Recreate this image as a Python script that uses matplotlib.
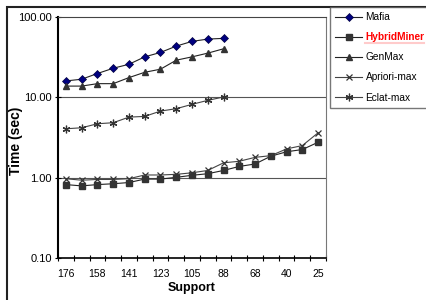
import matplotlib
matplotlib.use("Agg")
import matplotlib.pyplot as plt
from matplotlib.lines import Line2D
from matplotlib.patches import Rectangle
import numpy as np

plt.rcParams['font.family'] = ['Liberation Sans', 'DejaVu Sans']

# ---- data ----
support_labels = ["176", "158", "141", "123", "105", "88", "68", "40", "25"]
n_cat = 17

mafia = [16.0, 16.8, 19.8, 23.0, 25.8, 31.9, 36.2, 43.4, 49.7, 53.1, 54.2]
hybridminer = [0.82, 0.79, 0.82, 0.84, 0.87, 0.96, 0.96, 1.01, 1.07, 1.12,
               1.23, 1.38, 1.48, 1.85, 2.10, 2.24, 2.76]
genmax = [13.8, 13.8, 14.8, 14.8, 17.6, 20.5, 22.4, 29.0, 31.9, 35.5, 40.2]
apriori_max = [0.97, 0.93, 0.95, 0.95, 0.97, 1.08, 1.08, 1.10, 1.15, 1.23,
               1.53, 1.60, 1.79, 1.88, 2.28, 2.51, 3.62]
eclat_max = [4.06, 4.18, 4.69, 4.83, 5.67, 5.79, 6.74, 7.22, 8.18, 9.17, 10.1]

# ---- figure ----
fig = plt.figure(figsize=(4.26, 3.0), dpi=100)
ax = fig.add_axes([58/426, 1-258/300, (326-58)/426, (258-17)/300])

ax.plot(range(len(mafia)), mafia, color="#222222", lw=0.8, marker="D",
        ms=4, mfc="#000080", mec="#000040", mew=0.5, label="Mafia")
ax.plot(range(len(hybridminer)), hybridminer, color="#222222", lw=0.8, marker="s",
        ms=4.5, mfc="#333333", mec="#333333", label="HybridMiner")
ax.plot(range(len(genmax)), genmax, color="#222222", lw=0.8, marker="^",
        ms=5, mfc="#333333", mec="#333333", label="GenMax")
ax.plot(range(len(apriori_max)), apriori_max, color="#444444", lw=0.8, marker="x",
        ms=5, mec="#333333", mew=0.9, label="Apriori-max")
ax.plot(range(len(eclat_max)), eclat_max, color="#444444", lw=0.8, marker=(6, 2, 0),
        ms=5.5, mec="#333333", mew=0.9, label="Eclat-max")

ax.set_yscale("log")
ax.set_ylim(0.1, 100)
ax.set_xlim(-0.5, n_cat - 0.5)
ax.set_yticks([0.1, 1, 10, 100])
ax.set_yticklabels(["0.10", "1.00", "10.00", "100.00"])
ax.minorticks_off()
for v in [1, 10]:
    ax.axhline(v, color="#555555", lw=0.8, zorder=0)

ax.set_xticks(np.arange(-0.5, n_cat, 1))
ax.set_xticklabels([])
ax.set_xticks(np.arange(0, n_cat, 2), minor=True)
ax.set_xticklabels(support_labels, minor=True)
ax.tick_params(axis="x", which="major", direction="inout", length=5, width=0.8)
ax.tick_params(axis="x", which="minor", length=0, pad=8, labelsize=7.5)
ax.tick_params(axis="y", direction="inout", length=5, width=0.8, labelsize=8, pad=2)

ax.spines["left"].set_linewidth(1.5)
ax.spines["bottom"].set_linewidth(1.2)
ax.spines["right"].set_color("#777777")
ax.spines["top"].set_color("#444444")
ax.spines["top"].set_linewidth(0.8)

ax.set_xlabel("Support", fontsize=9, fontweight="bold", labelpad=2)
ax.set_ylabel("Time (sec)", fontsize=10, fontweight="bold")
ax.yaxis.set_label_coords(-0.13, 0.485)

leg = fig.legend(loc="upper left", bbox_to_anchor=(330/426, 1-7/300),
                 fontsize=7.3, frameon=True, fancybox=False, handlelength=2.7,
                 handletextpad=0.3, labelspacing=1.0, borderpad=0.5,
                 borderaxespad=0)
leg.get_frame().set_edgecolor("#555555")
leg.get_frame().set_linewidth(1.0)
hm = leg.get_texts()[1]
hm.set_color("red")
hm.set_fontweight("bold")

# outer chart frame
fig.add_artist(Rectangle((7/426, -0.1), 1.2, 1-7/300+0.1, transform=fig.transFigure,
                         fill=False, edgecolor="#222222", lw=1.5))

fig.canvas.draw()
bb = hm.get_window_extent().transformed(fig.transFigure.inverted())
fig.add_artist(Line2D([bb.x0, bb.x1], [bb.y0 - 0.004, bb.y0 - 0.004],
                      transform=fig.transFigure, color="red", lw=1.5))

fig.savefig("out.png", dpi=100)
